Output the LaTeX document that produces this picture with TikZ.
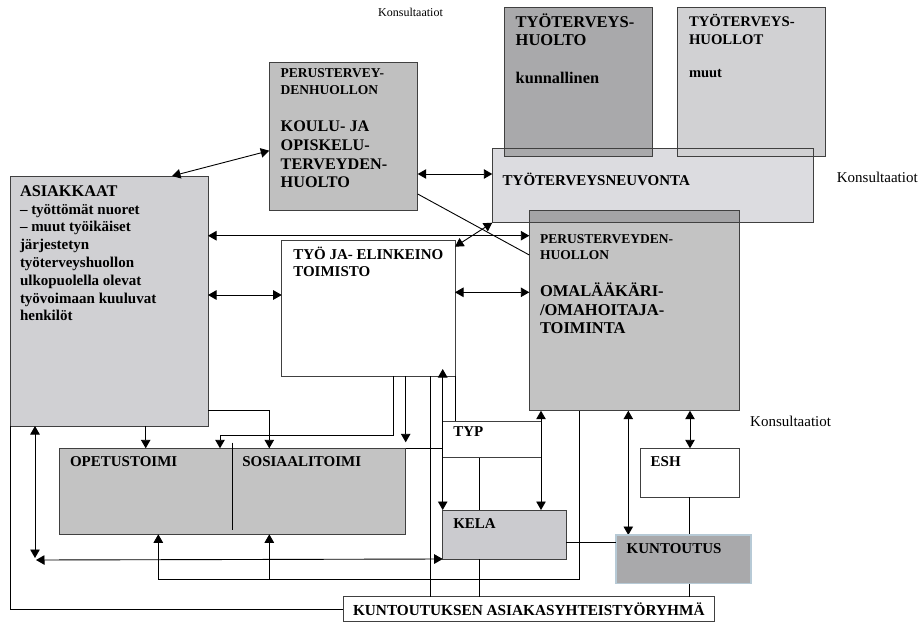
\documentclass[tikz,border=0pt]{standalone}
\usepackage{fontspec}
\setmainfont{Liberation Serif}
\usetikzlibrary{arrows.meta}

\definecolor{edge}{HTML}{404040}
\definecolor{asifill}{HTML}{D0D0D3}
\definecolor{koufill}{HTML}{C0C0C0}
\definecolor{kunfill}{HTML}{A9A9AB}
\definecolor{muufill}{HTML}{D1D1D3}
\definecolor{neufill}{HTML}{DCDCE0}
\definecolor{omafill}{HTML}{C3C3C3}
\definecolor{omaneu}{HTML}{A4A4A6}
\definecolor{opefill}{HTML}{C3C3C3}
\definecolor{kelfill}{HTML}{CBCBCF}
\definecolor{ktfill}{HTML}{A9A9AB}
\definecolor{ktedge}{HTML}{B7CAD6}

\newcommand\fs[2]{\fontsize{#1}{#2}\selectfont\bfseries}
% box from upper-left (x1,y1) to lower-right (x2,y2), in pixel-like units
\newcommand\boxnode[6]{%
  \node[#1, minimum width={#5-#3}, minimum height={#6-#4}] (#2) at (#3,#4) {};}

\begin{document}
\begin{tikzpicture}[x=1pt,y=-1pt,
  boxbase/.style={rectangle, anchor=north west, inner sep=0pt, outer sep=0pt},
  framed/.style={boxbase, draw=edge, line width=1pt},
  fillonly/.style={boxbase},
  % multi-line labels are placed by the baseline of their last line
  lbl/.style={anchor=base west, inner sep=0pt, outer sep=0pt, align=left},
  note/.style={anchor=base west, inner sep=0pt, font=\fontsize{15}{17}\selectfont},
  link/.style={draw=black, line width=0.9pt},
  tip/.style={link, -{Triangle[length=8.5pt,width=9.5pt]}},
  twotip/.style={link, {Triangle[length=8.5pt,width=9.5pt]}-{Triangle[length=8.5pt,width=9.5pt]}}
]
\useasboundingbox (0,0) rectangle (920,623);
\fill[white] (0,0) rectangle (920,623);

% ---- upper cluster: occupational health boxes
\boxnode{fillonly, fill=neufill}{neu}{492.3}{148.3}{813.3}{222.7}
\boxnode{fillonly, fill=kunfill}{kun}{504.3}{7.7}{652.7}{156}
\boxnode{fillonly, fill=muufill}{muu}{677.7}{7.7}{825.7}{156}
\boxnode{fillonly, fill=omafill}{oma}{529.3}{210.7}{739.3}{410.7}
\fill[omaneu] (oma.north west) rectangle (oma.east |- neu.south);
\draw[edge, line width=1pt] (neu.north west) rectangle (neu.south east);
\draw[edge, line width=1pt] (kun.north west) rectangle (kun.south east);
\draw[edge, line width=1pt] (muu.north west) rectangle (muu.south east);
\draw[edge, line width=1pt] (oma.north west) rectangle (oma.south east);

% ---- other boxes
\boxnode{framed, fill=asifill}{asi}{10}{176}{208}{426}
\boxnode{framed, fill=koufill}{kou}{269.3}{62.3}{417.7}{210}
\boxnode{framed, fill=white}{tyo}{281.7}{240.7}{455}{376}
\boxnode{framed, fill=opefill}{ope}{59.3}{448.3}{405.7}{534.3}
\boxnode{framed, fill=white}{typ}{442.7}{421}{541}{457.7}
\boxnode{framed, fill=kelfill}{kel}{442.7}{510}{566}{559}
\boxnode{framed, fill=white}{esh}{640.7}{448.3}{739.3}{497.3}
\boxnode{framed, fill=white}{kr}{343.3}{596.7}{714.3}{621.7}

% divider between the two offices
\draw[link] (232.3,442.7) -- (232.3,530);

% ---- connectors
\draw[twotip] (asi.north -| 172,0) -- (kou.west |- 0,150.7);
\draw[twotip] (kou.east |- 0,174) -- (neu.west |- 0,174);
\draw[link] (kou.east |- 0,194) -- (oma.west |- 0,255);
\draw[twotip] (asi.east |- 0,235.7) -- (oma.west |- 0,235.7);
\draw[twotip] (asi.east |- 0,295) -- (tyo.west |- 0,295);
\draw[twotip] (tyo.east |- 0,292.3) -- (oma.west |- 0,292.3);
\draw[twotip] ([yshift=-6pt]tyo.north east) -- (neu.south west);

\draw[tip] (tyo.south -| 393.3,0) |- (220,435) -- (ope.north -| 220,0);
\draw[tip, shorten >=6pt] (tyo.south -| 405.7,0) -- (ope.north east);
\draw[link] (tyo.south -| 430,0) -- (kr.north -| 430,0);
\draw[twotip, shorten <=-7pt] (tyo.south -| 442.7,0) -- (kel.north west);
\draw[link] (tyo.south east) -- (typ.north -| tyo.south east);
\draw[link] (ope.north east) -- (ope.north east -| typ.west);

\draw[twotip] (oma.south -| 541,0) -- (kel.north -| 541,0);
\draw[link] (typ.south -| 479.3,0) -- (kel.north -| 479.3,0);
\draw[link] (kel.south -| 479.3,0) -- (kr.north -| 479.3,0);

\draw[twotip] (asi.south -| 35,0) -- (35,558);
\draw[twotip] (36,560) -- (kel.south west);

\coordinate (oturn) at (269.3,579);
\draw[tip] (oma.south -| 579,0) |- (158.3,579) -- (ope.south -| 158.3,0);
\draw[tip] (oturn) -- (ope.south -| oturn);

\draw[tip] (asi.south -| 145.7,0) -- (ope.north -| 145.7,0);
\draw[tip] (asi.east |- 0,410.7) -| (ope.north -| 269.3,0);
\draw[link] (asi.south west) |- (kr.west);

\draw[twotip] (oma.south -| 690,0) -- (esh.north -| 690,0);
\draw[link] (esh.south -| 689.3,0) -- (kr.north -| 689.3,0);
\draw[twotip] (oma.south -| 628.3,0) -- (628.3,535);

% rehabilitation box sits over the ESH line
\boxnode{boxbase, fill=ktfill, draw=ktedge, line width=1.4pt}{kt}{616}{535}{751}{583.3}
\draw[link] (kel.east |- 0,542.3) -- (kt.west |- 0,542.3);

% ---- texts
\node[lbl, font=\fs{16.3}{18}] (t-asi) at (20,196) {ASIAKKAAT};
\node[lbl, font=\fs{15}{17.8}] (t-asi2) at (20,320.8) {– työttömät nuoret\\– muut työikäiset\\järjestetyn\\työterveyshuollon\\ulkopuolella olevat\\työvoimaan kuuluvat\\henkilöt};

\node[lbl, font=\fs{13.5}{17}] (t-kou1) at (280.7,95) {PERUSTERVEY-\\DENHUOLLON};
\node[lbl, font=\fs{16.2}{18.7}] (t-kou2) at (280.7,187.8) {KOULU- JA\\OPISKELU-\\TERVEYDEN-\\HUOLTO};

\node[lbl, font=\fs{16.5}{17.7}] (t-kun) at (515.7,45.7) {TYÖTERVEYS-\\HUOLTO};
\node[lbl, font=\fs{16.3}{18}] (t-kun2) at (515.7,84) {kunnallinen};
\node[lbl, font=\fs{14.7}{18.3}] (t-muu) at (689,45) {TYÖTERVEYS-\\HUOLLOT};
\node[lbl, font=\fs{14.5}{18}] (t-muu2) at (689,78) {muut};

\node[lbl, font=\fs{15}{18}] (t-neu) at (502.7,185) {TYÖTERVEYSNEUVONTA};

\node[lbl, font=\fs{13.5}{16}] (t-oma1) at (540,259.3) {PERUSTERVEYDEN-\\HUOLLON};
\node[lbl, font=\fs{16.5}{18.3}] (t-oma2) at (540,333.3) {OMALÄÄKÄRI-\\/OMAHOITAJA-\\TOIMINTA};

\node[lbl, font=\fs{15}{16.7}] (t-tyo) at (293.3,276) {TYÖ JA- ELINKEINO\\TOIMISTO};
\node[lbl, font=\fs{15}{17}] (t-ope) at (70,466.7) {OPETUSTOIMI};
\node[lbl, font=\fs{15}{17}] (t-sos) at (242.3,466.7) {SOSIAALITOIMI};
\node[lbl, font=\fs{15}{17}] (t-typ) at (453.3,436) {TYP};
\node[lbl, font=\fs{15}{17}] (t-kel) at (453.3,528.3) {KELA};
\node[lbl, font=\fs{15}{17}] (t-esh) at (650.7,466) {ESH};
\node[lbl, font=\fs{15}{17}] (t-kt) at (626.7,553.3) {KUNTOUTUS};
\node[anchor=base, inner sep=0pt, font=\fs{15.3}{17}] (t-kr) at (528.8,615) {KUNTOUTUKSEN ASIAKASYHTEISTYÖRYHMÄ};

\node[note, font=\fontsize{12}{14}\selectfont] (k1) at (378,17) {Konsultaatiot};
\node[note] (k2) at (836.7,182) {Konsultaatiot};
\node[note] (k3) at (750,426.7) {Konsultaatiot};
\end{tikzpicture}
\end{document}
